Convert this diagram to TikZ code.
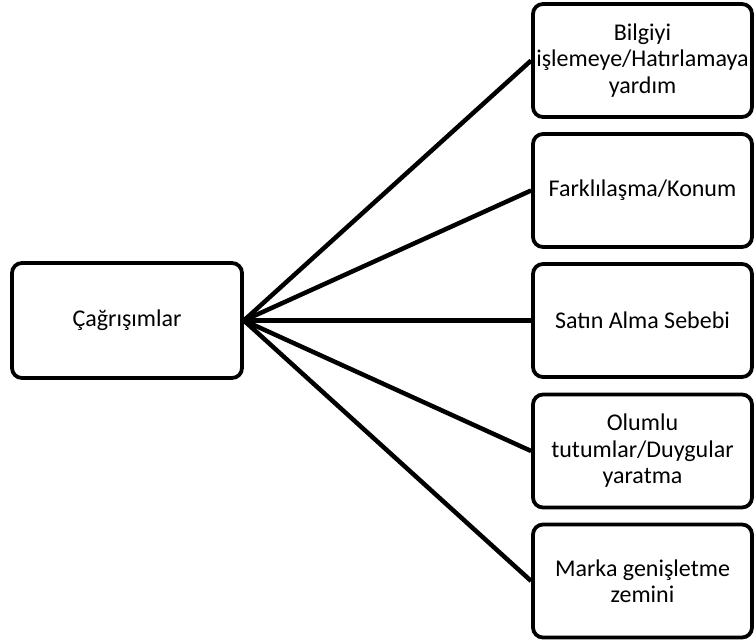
\documentclass[tikz,border=0pt]{standalone}
\usepackage{fontspec}
\setmainfont{Carlito}
\begin{document}
\begin{tikzpicture}[x=1pt,y=-1pt,
  box/.style={draw=black,line width=3.8pt,rounded corners=10pt,fill=white,
    minimum width=219pt,minimum height=113pt,align=center,inner sep=0pt,
    font=\fontsize{24}{26.5}\selectfont},
  link/.style={line width=4.5pt}]
\useasboundingbox (0,0) rectangle (755,642);
\node[box,minimum width=230pt,minimum height=115pt] (c) at (127,320.5) {Çağrışımlar};
\node[box] (r1) at (642.5,60.5) {Bilgiyi\\işlemeye/Hatırlamaya\\yardım};
\node[box] (r2) at (642.5,190.5) {Farklılaşma/Konum};
\node[box] (r3) at (642.5,320.5) {Satın Alma Sebebi};
\node[box] (r4) at (642.5,451) {Olumlu\\tutumlar/Duygular\\yaratma};
\node[box] (r5) at (642.5,581) {Marka genişletme\\zemini};
\foreach \r in {r1,r2,r3,r4,r5}
  \draw[link] (c.east) -- (\r.west);
\end{tikzpicture}
\end{document}
